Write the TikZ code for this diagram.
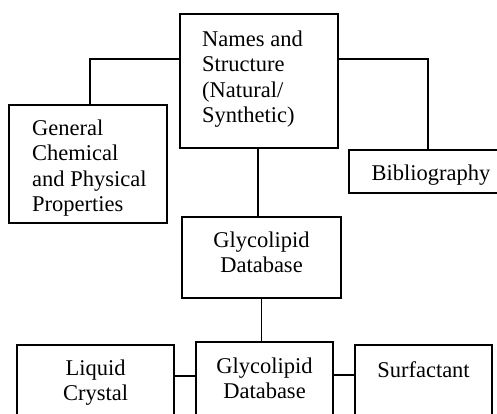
\documentclass[tikz,border=0pt]{standalone}
\usepackage{fontspec}
\setmainfont{Liberation Serif}
\usetikzlibrary{calc}
\begin{document}
\begin{tikzpicture}[x=1pt,y=-1pt,
  box/.style={draw,line width=1.8pt,inner sep=0pt,minimum width=#1},
  txt/.style={inner sep=0pt,font=\fontsize{22.5}{25.5}\selectfont},
  link/.style={line width=1.6pt}]
\useasboundingbox (0,0) rectangle (497,413);
\clip (0,0) rectangle (497,413);
% boxes
\node[box=158pt,minimum height=134pt] (names) at (259,81) {};
\node[box=158pt,minimum height=118pt] (general) at (88,164) {};
\node[box=156pt,minimum height=43pt] (biblio) at (427,171.5) {};
\node[box=159pt,minimum height=81pt] (glyA) at (261.5,257.5) {};
\node[box=157pt,minimum height=100pt] (liquid) at (95.5,395) {};
\node[box=137pt,minimum height=100pt] (glyB) at (264.5,392) {};
\node[box=137pt,minimum height=100pt] (surf) at (423.5,395) {};
% texts
\node[txt,anchor=north west,align=left] (tnames) at (202,30.6) {Names and\\Structure\\(Natural/\\Synthetic)};
\node[txt,anchor=north west,align=left] (tgeneral) at (32,119.6) {General\\Chemical\\and Physical\\Properties};
\node[txt,anchor=north] (tbiblio) at (431,164.6) {Bibliography};
\node[txt,anchor=north,align=center] (tglyA) at (261.5,231.6) {Glycolipid\\Database};
\node[txt,anchor=north,align=center] (tglyB) at (264.5,357.6) {Glycolipid\\Database};
\node[txt,anchor=north,align=center] (tliquid) at (95.5,359.6) {Liquid\\Crystal};
\node[txt,anchor=north] (tsurf) at (423.5,361.6) {Surfactant};
% connectors
\coordinate (nl) at ($(names.north west)+(0,46)$);
\coordinate (nr) at ($(names.north east)+(0,46)$);
\coordinate (ns) at ($(names.south)+(-1,0)$);
\draw[link] (nl) -| ($(general.north)+(2,0)$);
\draw[link] (nr) -| ($(biblio.north)+(1,0)$);
\draw[link] (ns) -- (ns |- glyA.north);
\draw[link] (glyA.south) -- (glyA.south |- glyB.north);
\coordinate (ll) at ($(liquid.north east)+(0,32)$);
\draw[link] (ll) -- (ll -| glyB.west);
\coordinate (sl) at ($(surf.north west)+(0,31)$);
\draw[link] (sl) -- (sl -| glyB.east);
\end{tikzpicture}
\end{document}
